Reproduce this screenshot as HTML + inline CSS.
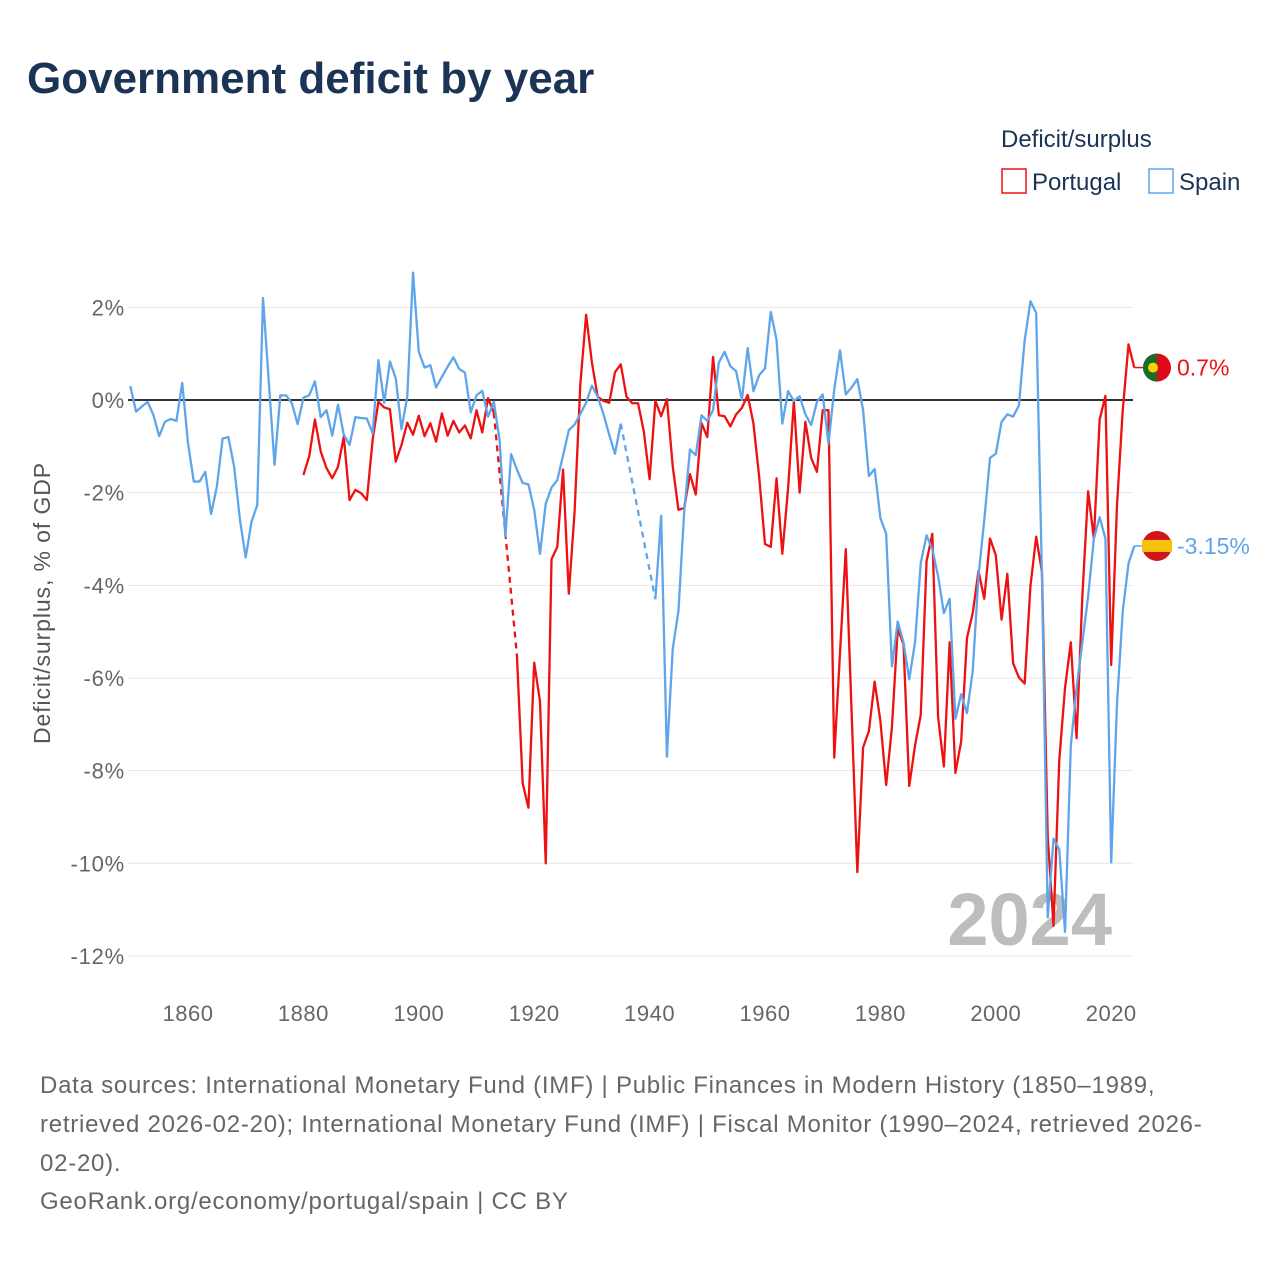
<!DOCTYPE html>
<html><head><meta charset="utf-8">
<style>
body{margin:0;background:#fff;font-family:"Liberation Sans",sans-serif;}
#wrap{position:relative;width:1280px;height:1280px;overflow:hidden;background:#fff}
</style></head>
<body>
<div id="wrap">
<svg id="chart" width="1280" height="1280" xmlns="http://www.w3.org/2000/svg">
<text x="27" y="93" font-size="44" font-weight="bold" fill="#1b3354" font-family="Liberation Sans, sans-serif">Government deficit by year</text>
<text x="1001" y="147" font-size="24" fill="#1b3354">Deficit/surplus</text>
<g><rect x="1002" y="169" width="24" height="24" fill="none" stroke="#ee1111" stroke-width="1.5"/><text x="1032" y="190" font-size="24" fill="#1b3354">Portugal</text></g>
<g><rect x="1149" y="169" width="24" height="24" fill="none" stroke="#5fa5ea" stroke-width="1.5"/><text x="1179" y="190" font-size="24" fill="#1b3354">Spain</text></g>
<text transform="translate(50,603) rotate(-90)" text-anchor="middle" font-size="23" letter-spacing="0.9" fill="#555">Deficit/surplus, % of GDP</text>
<g id="grid"></g>
<text x="1112" y="945" text-anchor="end" font-size="74" font-weight="bold" fill="#bdbdbd">2024</text>
<g id="series"></g>
<g id="endlabels"></g>
<g font-size="24" fill="#666" letter-spacing="0.75">
<text x="40" y="1093">Data sources: International Monetary Fund (IMF) | Public Finances in Modern History (1850–1989,</text>
<text x="40" y="1132">retrieved 2026-02-20); International Monetary Fund (IMF) | Fiscal Monitor (1990–2024, retrieved 2026-</text>
<text x="40" y="1171">02-20).</text>
<text x="40" y="1209">GeoRank.org/economy/portugal/spain | CC BY</text>
</g>
</svg>
</div>
<script>
const yTicks=[2,0,-2,-4,-6,-8,-10,-12];
const xTicks=[1860,1880,1900,1920,1940,1960,1980,2000,2020];
const spainStart=1850;
const spainValues=[0.3,-0.25,-0.14,-0.04,-0.32,-0.78,-0.47,-0.41,-0.45,0.37,
-0.93,-1.76,-1.76,-1.55,-2.46,-1.87,-0.83,-0.8,-1.44,-2.58,
-3.4,-2.63,-2.27,2.2,0.4,-1.4,0.1,0.1,-0.07,-0.52,
0.05,0.1,0.4,-0.37,-0.22,-0.77,-0.1,-0.75,-0.97,-0.37,
-0.39,-0.4,-0.72,0.86,-0.06,0.83,0.47,-0.63,0.07,2.75,
1.04,0.7,0.75,0.27,0.5,0.72,0.92,0.67,0.59,-0.27,
0.1,0.2,-0.36,-0.04,-0.86,-2.95,-1.17,-1.5,-1.79,-1.82,
-2.37,-3.32,-2.24,-1.89,-1.73,-1.2,-0.65,-0.53,-0.3,-0.06,
0.31,0.07,-0.3,-0.75,-1.16,-0.51,null,null,null,null,
null,-4.3,-2.5,-7.7,-5.38,-4.55,-2.4,-1.07,-1.19,-0.33,
-0.45,-0.22,0.81,1.04,0.73,0.62,0,1.12,0.19,0.54,
0.68,1.9,1.3,-0.51,0.19,-0.02,0.08,-0.31,-0.54,-0.04,
0.12,-0.94,0.22,1.07,0.12,0.27,0.45,-0.22,-1.64,-1.49,
-2.55,-2.89,-5.75,-4.78,-5.23,-6.03,-5.23,-3.51,-2.92,-3.22,
-3.8,-4.6,-4.29,-6.88,-6.35,-6.76,-5.85,-3.8,-2.59,-1.25,
-1.16,-0.47,-0.31,-0.36,-0.12,1.28,2.13,1.88,-3.8,-11.17,
-9.47,-9.7,-11.48,-7.46,-6.21,-5.23,-4.24,-2.99,-2.53,-2.99,
-9.98,-6.57,-4.56,-3.53,-3.15];
const portugalStart=1880;
const portugalValues=[-1.62,-1.22,-0.42,-1.11,-1.47,-1.69,-1.44,-0.79,-2.16,-1.94,
-2.01,-2.16,-0.86,-0.04,-0.16,-0.2,-1.33,-0.97,-0.49,-0.75,
-0.34,-0.78,-0.5,-0.9,-0.29,-0.77,-0.45,-0.7,-0.55,-0.83,
-0.22,-0.7,0.04,-0.27,null,null,null,-5.5,-8.27,-8.8,
-5.67,-6.5,-10.0,-3.44,-3.17,-1.5,-4.18,-2.41,0.35,1.84,
0.81,0.07,-0.02,-0.06,0.6,0.77,0.07,-0.07,-0.07,-0.68,
-1.71,-0.02,-0.35,0.02,-1.42,-2.37,-2.33,-1.6,-2.04,-0.5,
-0.8,0.93,-0.33,-0.35,-0.57,-0.31,-0.17,0.11,-0.51,-1.67,
-3.11,-3.17,-1.69,-3.32,-1.91,-0.02,-2.0,-0.47,-1.25,-1.55,
-0.22,-0.22,-7.72,-5.46,-3.22,-6.7,-10.19,-7.5,-7.15,-6.08,
-6.93,-8.31,-7.06,-4.94,-5.27,-8.33,-7.46,-6.79,-3.48,-2.89,
-6.84,-7.91,-5.23,-8.05,-7.37,-5.14,-4.6,-3.69,-4.29,-2.99,
-3.35,-4.74,-3.75,-5.68,-5.99,-6.12,-4.02,-2.95,-3.71,-9.43,
-11.35,-7.77,-6.21,-5.23,-7.3,-4.24,-1.97,-2.99,-0.42,0.09,
-5.72,-2.28,-0.22,1.2,0.7];
const endLabels=["0.7%","-3.15%"];

const NS="http://www.w3.org/2000/svg";
const X0=130.3, XS=5.77, Y0=400, YS=46.33;
function xs(yr){return X0+XS*(yr-1850);}
function ys(v){return Y0-YS*v;}
function mk(tag,attrs,parent){const e=document.createElementNS(NS,tag);for(const k in attrs)e.setAttribute(k,attrs[k]);parent.appendChild(e);return e;}
const grid=document.getElementById('grid');
yTicks.forEach(t=>{
  const l=mk('line',{x1:128,x2:1133,y1:ys(t),y2:ys(t),stroke:t===0?'#333':'#e6e6e6','stroke-width':t===0?2:1},grid);
  
  
  const tx=mk('text',{x:125,y:ys(t)+8,'text-anchor':'end','font-size':22,'letter-spacing':0.8,fill:'#666'},grid);
  tx.textContent=t+'%';
  
  
});
xTicks.forEach(t=>{
  const tx=mk('text',{x:xs(t),y:1021,'text-anchor':'middle','font-size':22,'letter-spacing':0.5,fill:'#666'},grid);
  tx.textContent=t;
  
  
});
const series=document.getElementById('series');
function drawSeries(start,vals,color,name){
  const g=mk('g',{},series);
  
  
  let segs=[],cur=[];
  vals.forEach((v,i)=>{if(v===null){if(cur.length)segs.push(cur);cur=[];}else cur.push([xs(start+i),ys(v)]);});
  if(cur.length)segs.push(cur);
  segs.forEach((s,k)=>{
    const p=mk('polyline',{points:s.map(q=>q.join(',')).join(' '),fill:'none',stroke:color,'stroke-width':2.3,'stroke-linejoin':'round'},g);
    
    
    if(k>0){const a=segs[k-1][segs[k-1].length-1],b=s[0];
      const d=mk('line',{x1:a[0],y1:a[1],x2:b[0],y2:b[1],stroke:color,'stroke-width':2.3,'stroke-dasharray':'6,5'},g);
      
      }
  });
  return [xs(start+vals.length-1),ys(vals[vals.length-1])];
}
const pEnd=drawSeries(portugalStart,portugalValues,'#ee1111','portugal');
const sEnd=drawSeries(spainStart,spainValues,'#5fa5ea','spain');
const el=document.getElementById('endlabels');
const tail=mk('line',{x1:pEnd[0],y1:pEnd[1],x2:1143,y2:pEnd[1],stroke:'#ee1111','stroke-width':1.5},el);


const tail2=mk('line',{x1:sEnd[0],y1:sEnd[1],x2:1143,y2:sEnd[1],stroke:'#5fa5ea','stroke-width':1.5},el);


const pf=mk('g',{},el);


mk('circle',{cx:1157,cy:pEnd[1],r:14,fill:'#da0b16'},pf);
mk('path',{d:`M1157 ${pEnd[1]-14} A14 14 0 0 0 1157 ${pEnd[1]+14} Z`,fill:'#1d6b2a'},pf);
mk('circle',{cx:1153,cy:pEnd[1],r:5,fill:'#f5d400'},pf);
const pl=mk('text',{x:1177,y:pEnd[1]+8,'font-size':23,fill:'#ee1111'},el);
pl.textContent=endLabels[0];


const sf=mk('g',{},el);


mk('circle',{cx:1157,cy:sEnd[1],r:15,fill:'#d2141c'},sf);
mk('rect',{x:1142,y:sEnd[1]-6,width:30,height:12,fill:'#f4c20d'},sf);
const sl=mk('text',{x:1177,y:sEnd[1]+8,'font-size':23,fill:'#5fa5ea'},el);
sl.textContent=endLabels[1];


</script>
</body></html>
